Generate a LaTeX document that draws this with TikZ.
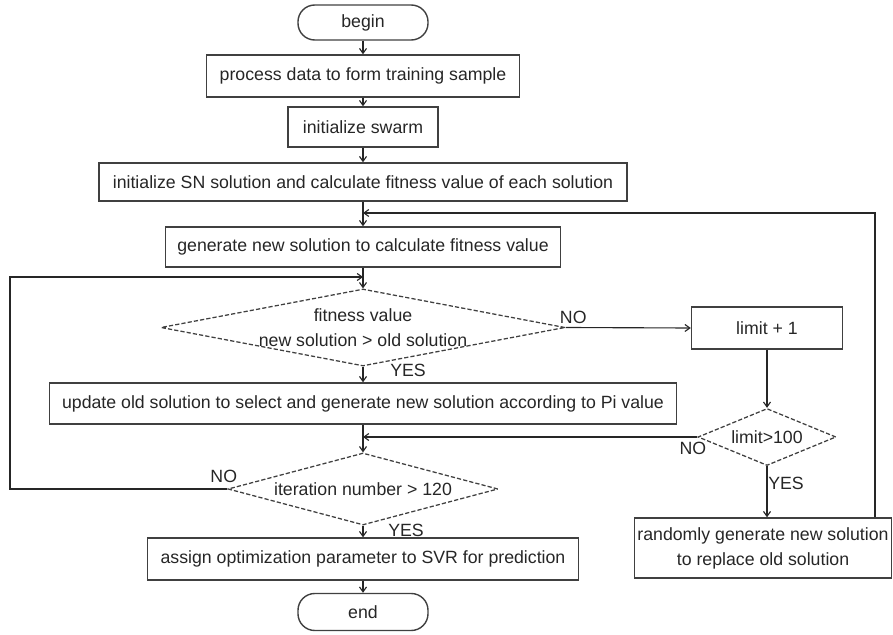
\documentclass[tikz,border=0pt]{standalone}
\usepackage{fontspec}
\setmainfont{Liberation Sans}
\usetikzlibrary{arrows.meta, positioning, shapes.geometric}

\begin{document}
\begin{tikzpicture}[
    x=0.025cm, y=-0.025cm,
    every node/.style={font=\fontsize{12.6}{17.8}\selectfont, text=black!85},
    stepbox/.style={draw=black!75, line width=1pt, inner sep=2pt, minimum height=1.0cm, align=center},
    termbox/.style={draw=black!75, line width=1pt, rounded corners=0.42cm, minimum width=3.25cm, minimum height=0.875cm},
    testbox/.style={diamond, draw=black!75, line width=0.9pt, dash pattern=on 3pt off 1.5pt, inner sep=0pt},
    lbl/.style={inner sep=0pt},
    arr/.style={-{Straight Barb[length=3.5pt,width=5pt]}, line width=0.8pt, draw=black!85}
]
\useasboundingbox (0,0) rectangle (893,635);

% Main column
\node[termbox] (begin) at (363,22.5) {begin};
\node[stepbox, minimum width=7.825cm, minimum height=1.05cm] (process) at (363,76) {process data to form training sample};
\node[stepbox, minimum width=3.75cm] (swarm) at (363,127) {initialize swarm};
\node[stepbox, minimum width=13.2cm, minimum height=0.95cm] (initsn) at (363,182) {initialize SN solution and calculate fitness value of each solution};
\node[stepbox, minimum width=9.875cm] (generate) at (363,247) {generate new solution to calculate fitness value};
\node[testbox, minimum width=10.1cm, minimum height=1.925cm,
      label={[lbl, align=center]center:fitness value\\new solution > old solution}] (fit) at (363,327.5) {};
\node[stepbox, minimum width=15.675cm, minimum height=1.025cm] (update) at (363,403.5) {update old solution to select and generate new solution according to Pi value};
\node[testbox, minimum width=6.75cm, minimum height=1.8cm,
      label={[lbl]center:iteration number > 120}] (iter) at (363,489) {};
\node[stepbox, minimum width=10.775cm, minimum height=1.05cm] (assign) at (363,559) {assign optimization parameter to SVR for prediction};
\node[termbox, minimum height=0.925cm] (end) at (363,612) {end};

% Right: limit branch
\node[stepbox, minimum width=3.775cm, minimum height=1.05cm] (limit) at (767,328) {limit + 1};
\node[testbox, minimum width=3.45cm, minimum height=1.425cm,
      label={[lbl]center:limit>100}] (limtest) at (767,437) {};
\node[stepbox, minimum width=6.4cm, minimum height=1.5cm] (random) at (763,548) {randomly generate new solution\\to replace old solution};

% loop corners
\coordinate (rloop) at (875,213);
\coordinate (lloop) at (10,277);

\draw[arr] (begin) -- (process);
\draw[arr] (process) -- (swarm);
\draw[arr] (swarm) -- (initsn);
\draw[arr] (initsn) -- (generate);
\draw[arr] (generate) -- (fit);
\draw[arr] (fit) -- (update);
\draw[arr] (update) -- (iter);
\draw[arr] (iter) -- (assign);
\draw[arr] (assign) -- (end);

\draw[arr] (fit.east) -- (limit.west);
\draw[arr] (limit) -- (limtest);
\draw[arr] (limtest.south) -- (limtest.south |- random.north);
\draw[arr] (limtest.west) -- (limtest.west -| update.north);
\draw[arr] (random.north -| rloop) -- (rloop) -- (rloop -| generate.north);
\draw[arr] (iter.west) -- (iter.west -| lloop) -- (lloop) -- (lloop -| fit.north);

% YES / NO
\node[lbl, above right=0.09cm and -0.15cm of fit.east] (fitno) {NO};
\node[lbl, below right=-0.06cm and 0.675cm of fit.south] (fityes) {YES};
\node[lbl, above left=0.14cm and -0.25cm of iter.west] (iterno) {NO};
\node[lbl, below right=-0.035cm and 0.625cm of iter.south] (iteryes) {YES};
\node[lbl, below left=0.115cm and -0.225cm of limtest.west] (limno) {NO};
\node[lbl, below right=0.265cm and 0.025cm of limtest.south] (limyes) {YES};

\end{tikzpicture}
\end{document}
